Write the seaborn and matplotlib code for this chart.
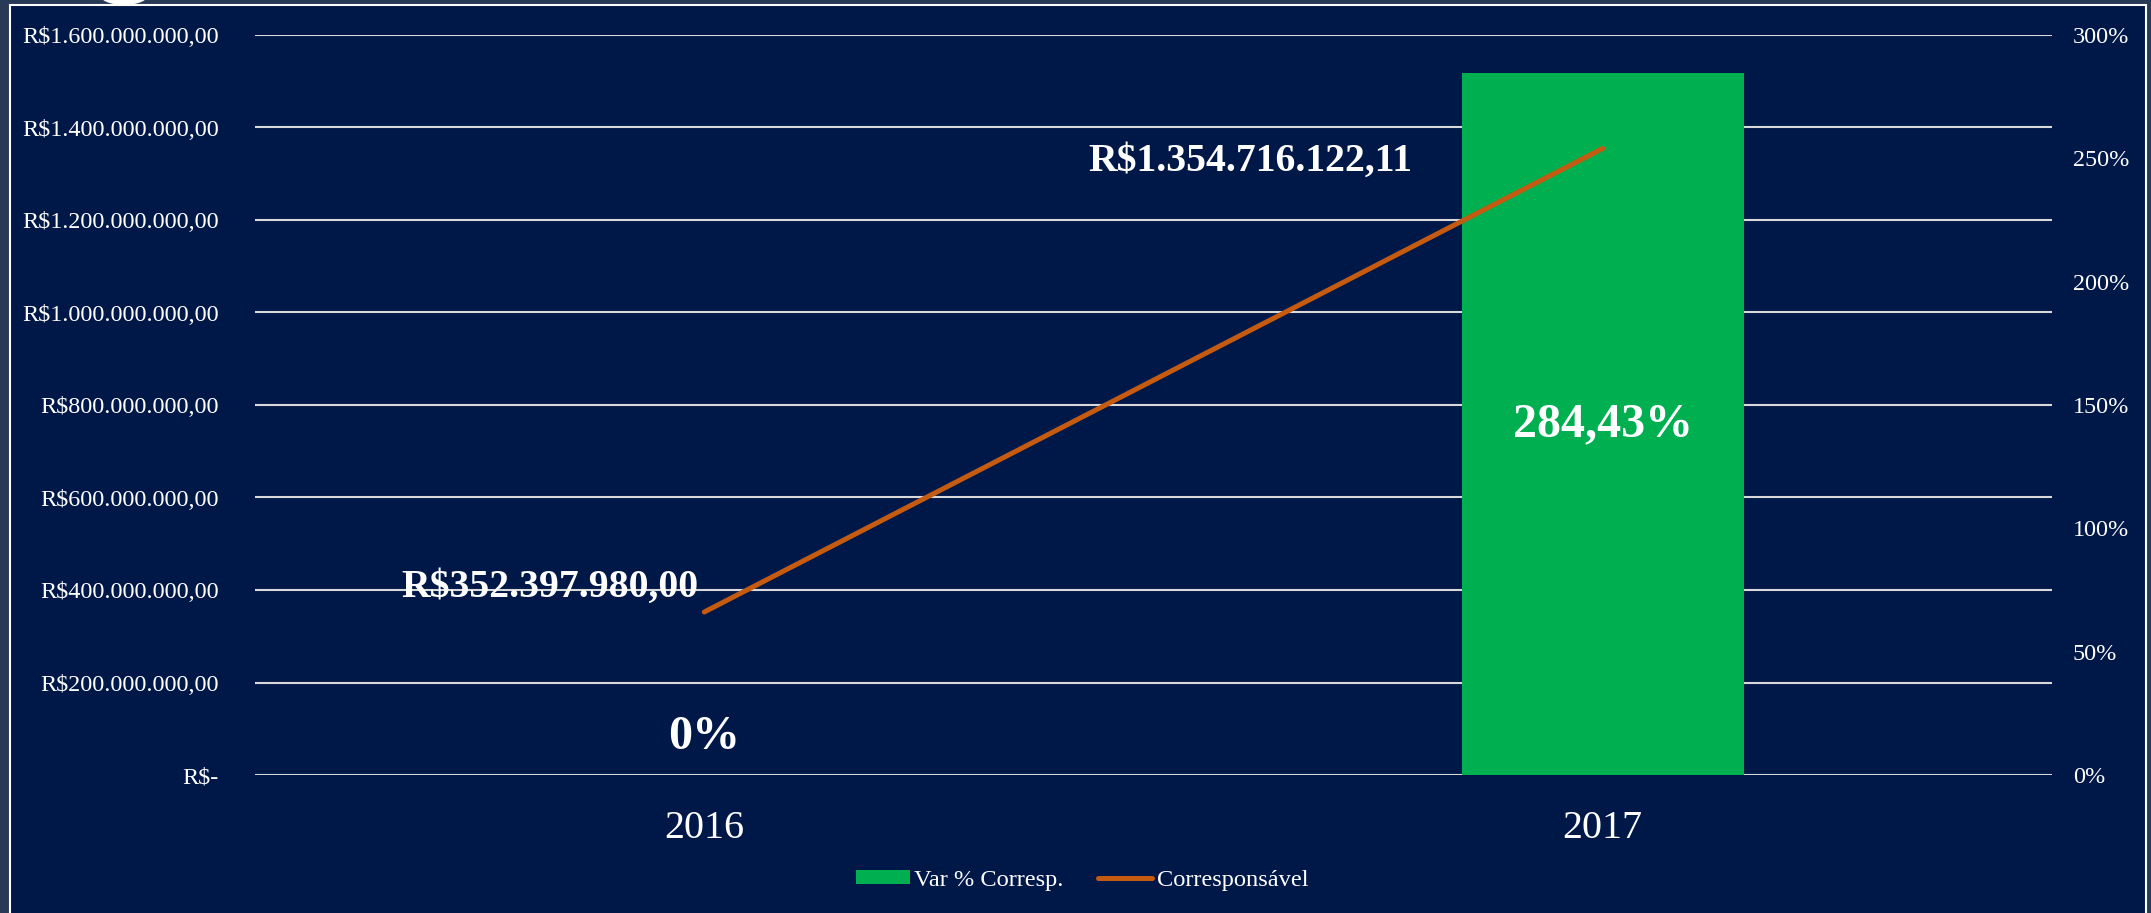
import numpy as np
import matplotlib
matplotlib.use("Agg")
import matplotlib.pyplot as plt
from matplotlib.patches import Rectangle, Ellipse, Patch
from matplotlib.lines import Line2D
from matplotlib.ticker import FuncFormatter
import seaborn as sns

# Data
years = ["2016", "2017"]
corresponsavel = [352397980.00, 1354716122.11]   # R$
var_pct = [0.0, 284.43]                           # %
left_ticks = [0, 200e6, 400e6, 600e6, 800e6, 1000e6, 1200e6, 1400e6, 1600e6]
right_ticks = [0, 50, 100, 150, 200, 250, 300]

NAVY = "#001848"
OUTER = "#283a56"
GREEN = "#00b050"
ORANGE = "#c55a11"
GRID = "#d9d9d9"
FONT = "Liberation Serif"

sns.set_theme(style="white")
plt.rcParams["font.family"] = [FONT, "DejaVu Serif"]


def brl(v):
    if v == 0:
        return "R$-"
    s = f"{v:,.2f}"
    s = s.replace(",", "_").replace(".", ",").replace("_", ".")
    return "R$" + s


def pct(v):
    s = f"{v:.2f}".rstrip("0").rstrip(".")
    return s.replace(".", ",") + "%"


W, H, DPI = 2151, 913, 100
fig = plt.figure(figsize=(W / DPI, H / DPI), dpi=DPI)
fig.patch.set_facecolor(OUTER)

# panel with thin white frame
fig.patches.append(Rectangle((10 / W, -0.05), (2146 - 10) / W, 1 - 5 / H + 0.05,
                             transform=fig.transFigure, facecolor=NAVY,
                             edgecolor="white", linewidth=1.5, zorder=-10))
fig.patches.append(Ellipse((124 / W, 1 + 6 / H), 50 / W, 22 / H,
                           transform=fig.transFigure, facecolor="white",
                           edgecolor="none", zorder=-10))

ax_l, ax_r = 255 / W, 2052 / W
ax_b, ax_t = 1 - 775 / H, 1 - 35 / H
ax = fig.add_axes([ax_l, ax_b, ax_r - ax_l, ax_t - ax_b])
ax.set_facecolor("none")
ax2 = ax.twinx()
ax2.set_facecolor("none")

x = np.arange(len(years))

# percentage bars (lower axes, scale on the right)
sns.barplot(x=x, y=var_pct, ax=ax, color=GREEN, width=0.314,
            saturation=1, native_scale=True, linewidth=0, zorder=2)
ax.set_xlim(-0.5, len(years) - 0.5)
ax.set_ylim(0, 300)
ax.set_yticks(right_ticks)
ax.yaxis.set_major_formatter(FuncFormatter(lambda v, p: f"{v:.0f}%"))
ax.yaxis.set_label_position("right")
ax.tick_params(axis="y", length=0, pad=15, labelsize=17.4,
               labelcolor="white", left=False, right=False,
               labelleft=False, labelright=True)
ax.grid(False)
# horizontal gridlines shared by both scales
for gy in np.linspace(0, 300, len(left_ticks)):
    ax.axhline(gy, color=GRID, linewidth=1.5, zorder=0)
ax.set_xticks(x)
ax.set_xticklabels(years)
ax.tick_params(axis="x", length=0, pad=25, labelsize=28.8, labelcolor="white")
for s in ax.spines.values():
    s.set_visible(False)
ax.set_xlabel("")
ax.set_ylabel("")

# currency line (upper axes, scale on the left)
sns.lineplot(x=x, y=corresponsavel, ax=ax2, color=ORANGE, linewidth=3.6,
             solid_capstyle="round", zorder=3)
ax2.set_xlim(-0.5, len(years) - 0.5)
ax2.set_ylim(0, 1600e6)
ax2.set_yticks(left_ticks)
ax2.yaxis.set_major_formatter(FuncFormatter(lambda v, p: brl(v)))
ax2.tick_params(axis="y", length=0, pad=26, labelsize=17.4, labelcolor="white",
                left=False, right=False, labelleft=True, labelright=False)
ax2.grid(False)
for s in ax2.spines.values():
    s.set_visible(False)
ax2.set_ylabel("")

PX = 72 / DPI  # points per pixel

# value labels on the line
line_offsets = [(-6, 25), (-190, -13)]
for i, v in enumerate(corresponsavel):
    dx, dy = line_offsets[i]
    ax2.annotate(brl(v), xy=(x[i], v), xytext=(dx * PX, dy * PX),
                 textcoords="offset points", ha="right", va="center",
                 fontsize=28.6, fontweight="bold", color="white", zorder=5)

# value labels on the bars
bar_offsets = [38, 0]
for i, v in enumerate(var_pct):
    ax.annotate(pct(v), xy=(x[i], v / 2), xytext=(0, bar_offsets[i] * PX),
                textcoords="offset points", ha="center", va="center",
                fontsize=34.6, fontweight="bold", color="white", zorder=5)

# legend
handles = [Patch(facecolor=GREEN, edgecolor="none"),
           Line2D([0], [0], color=ORANGE, linewidth=3.6, solid_capstyle="round")]
leg = fig.legend(handles, ["Var % Corresp.", "Corresponsável"],
                 loc="center", bbox_to_anchor=(1082 / W, 1 - 880 / H),
                 ncol=2, frameon=False, fontsize=17.6, labelcolor="white",
                 handlelength=2.2, handleheight=0.5, columnspacing=1.4,
                 handletextpad=0.2)

fig.savefig("out.png", dpi=DPI, facecolor=fig.get_facecolor())
